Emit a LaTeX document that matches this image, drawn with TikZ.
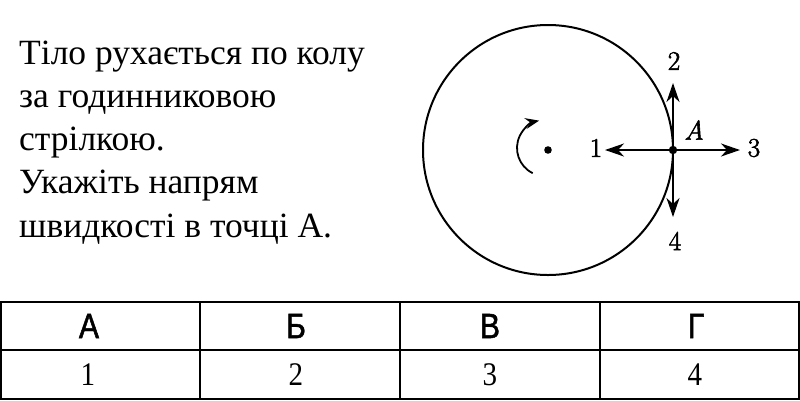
\documentclass[tikz,border=0pt]{standalone}
\usepackage{fontspec}
\setmainfont{Liberation Serif}
\newfontfamily\hdrfont[FakeBold=1.4,FakeStretch=0.86]{Liberation Sans}
\newfontfamily\numfont[FakeStretch=0.88]{Liberation Serif}
\newfontfamily\lmfont[FakeBold=2.2]{Latin Modern Roman}
\usetikzlibrary{arrows.meta}
\begin{document}
\begin{tikzpicture}[x=1pt,y=-1pt,
  qtext/.style={anchor=base west,inner sep=0pt,font=\fontsize{35.5}{40}\selectfont},
  lbl/.style={inner sep=0pt,font=\lmfont\fontsize{27}{30}\selectfont},
  vec/.style={line width=2pt,-{Stealth[length=19pt,width=13pt,inset=6pt]}},
  grid/.style={line width=2pt},
  hdr/.style={inner sep=0pt,font=\hdrfont\fontsize{35}{38}\selectfont},
  val/.style={inner sep=0pt,font=\numfont\fontsize{33}{35}\selectfont}]
\useasboundingbox (0,0) rectangle (800,400);
% question text
\node[qtext] (t1) at (19,64) {Тіло рухається по колу};
\node[qtext] (t2) at (19,107.25) {за годинниковою};
\node[qtext] (t3) at (19,150.5) {стрілкою.};
\node[qtext] (t4) at (19,193.75) {Укажіть напрям};
\node[qtext] (t5) at (19,237) {швидкості в точці А.};
% circle
\draw[line width=2pt] (548,150) circle[radius=125];
\fill (548,150) circle[radius=3.8];
\coordinate (O) at (548,150);
\draw[line width=1.8pt,-{Stealth[length=14pt,width=11pt,inset=5pt]}] ([shift={(116:28)}]545,148) arc[start angle=116,end angle=258,radius=28];
% point A and vectors
\coordinate (A) at (673,150);
\coordinate (e1) at (605,150);
\coordinate (e2) at (673,83);
\coordinate (e3) at (740,150);
\coordinate (e4) at (673,217);
\draw[vec] (A) -- (e1);
\draw[vec] (A) -- (e2);
\draw[vec] (A) -- (e3);
\draw[vec] (A) -- (e4);
\fill (A) circle[radius=4.2];
\node[lbl] (l1) at (596,148) {1};
\node[lbl] (l2) at (674,61) {2};
\node[lbl] (l3) at (754,148) {3};
\node[lbl] (l4) at (675,241) {4};
\node[lbl,font=\lmfont\itshape\fontsize{27}{30}\selectfont] (la) at (694,130) {A};
% table
\draw[grid] (1,302) rectangle (799,399);
\draw[grid] (1,350) -- (799,350);
\draw[grid] (200,302) -- (200,399);
\draw[grid] (400,302) -- (400,399);
\draw[grid] (600,302) -- (600,399);
\node[hdr] (h1) at (89,326) {А};
\node[hdr] (h2) at (296,326) {Б};
\node[hdr] (h3) at (490,326) {В};
\node[hdr] (h4) at (696,326) {Г};
\node[val] (v1) at (88,375) {1};
\node[val] (v2) at (296,375) {2};
\node[val] (v3) at (490,375) {3};
\node[val] (v4) at (695,375) {4};
\end{tikzpicture}
\end{document}
